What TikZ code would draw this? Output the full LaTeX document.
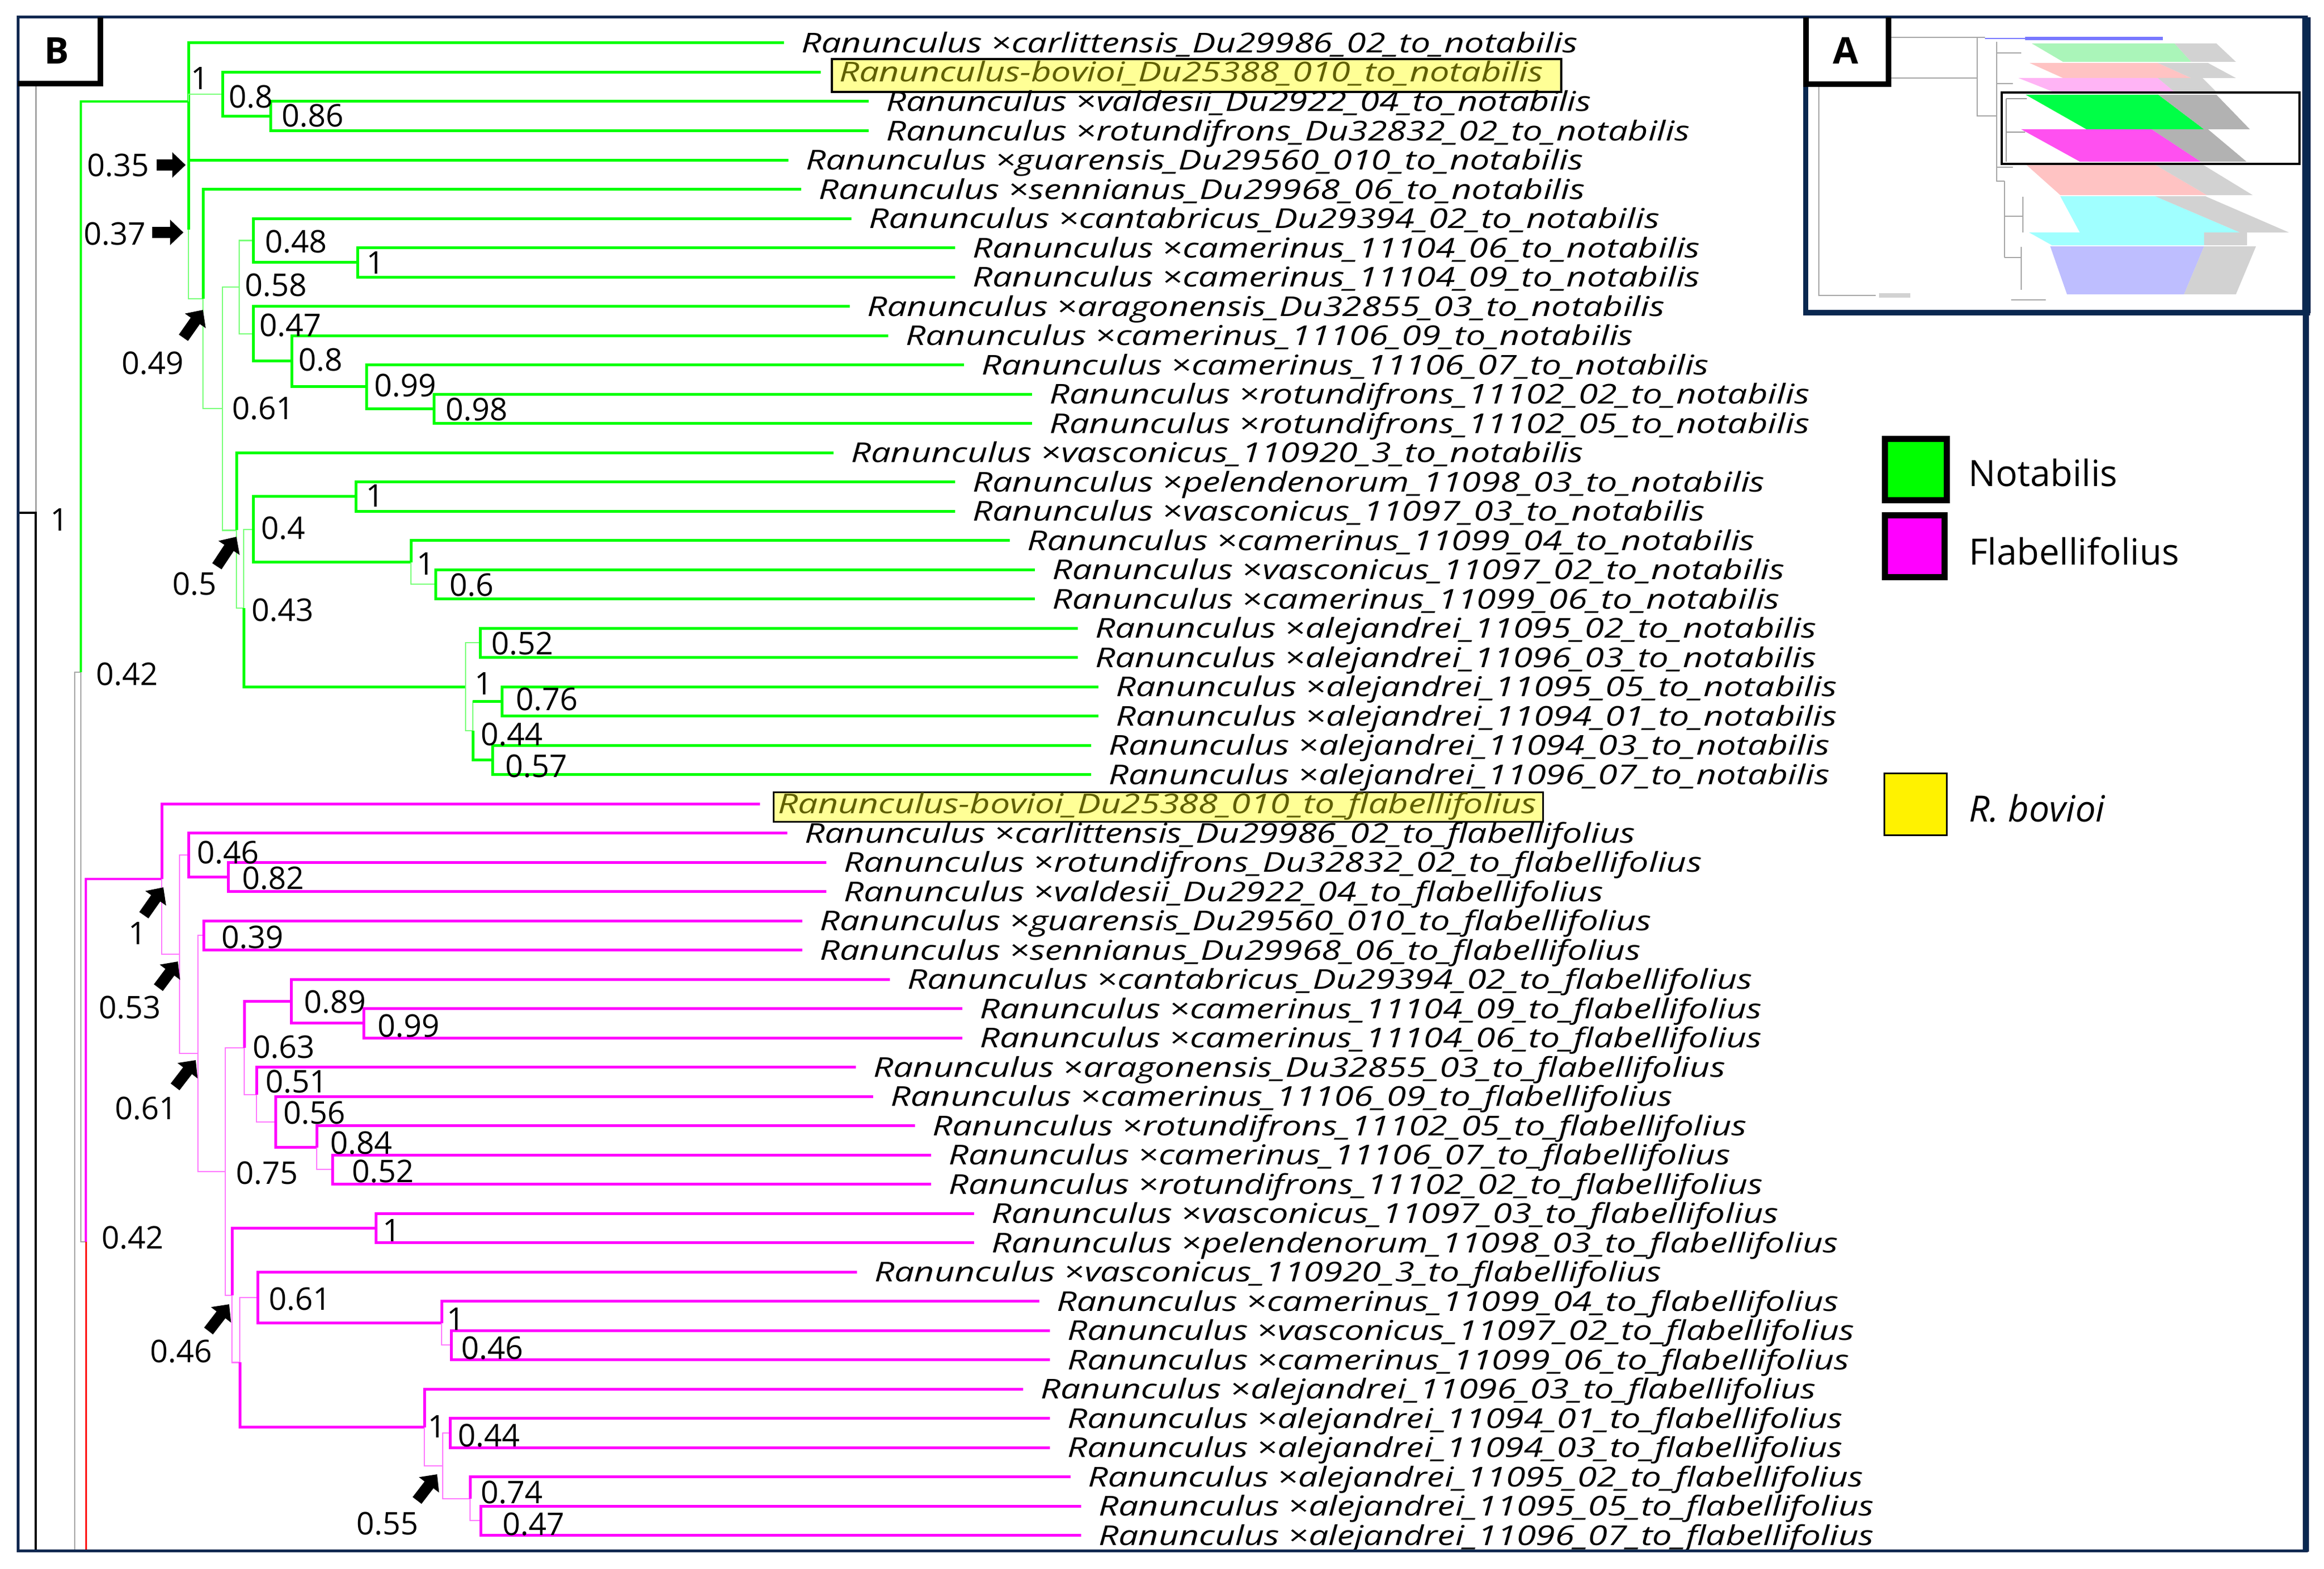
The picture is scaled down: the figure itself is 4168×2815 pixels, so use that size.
\documentclass[tikz,border=0pt]{standalone}
\usepackage{fontspec}
\setmainfont{Open Sans}
\newfontfamily\leaffont[FakeStretch=1.285]{Open Sans}
\usetikzlibrary{arrows.meta}

\definecolor{brG}{RGB}{0,255,0}
\definecolor{ltG}{RGB}{120,255,120}
\definecolor{brM}{RGB}{255,0,255}
\definecolor{ltM}{RGB}{255,120,255}
\definecolor{navyf}{RGB}{10,40,80}
\definecolor{greyl}{RGB}{165,165,165}
\definecolor{boxfill}{RGB}{255,255,150}
\definecolor{boxtext}{RGB}{95,95,0}
\definecolor{mLgreen}{RGB}{170,245,185}
\definecolor{mLpink}{RGB}{255,195,195}
\definecolor{mLmag}{RGB}{255,180,245}
\definecolor{mBgreen}{RGB}{0,255,70}
\definecolor{mBmag}{RGB}{255,80,240}
\definecolor{mLcyan}{RGB}{160,255,255}
\definecolor{mLblue}{RGB}{190,190,255}
\definecolor{mTblue}{RGB}{120,120,255}

\newcommand{\leafN}[4]{\coordinate (t#1) at (#2,#3);\node[leaflab] (l#1) at (t#1) {#4};}

\tikzset{
  gTh/.style={draw=brG, line width=5pt},
  gTn/.style={draw=ltG, line width=2.2pt},
  mTh/.style={draw=brM, line width=5pt},
  mTn/.style={draw=ltM, line width=2.2pt},
  greyline/.style={draw=greyl, line width=2.5pt},
  leaflab/.style={anchor=base west, xshift=31pt, yshift=-17.5pt, inner sep=0pt,
     font=\leaffont\itshape\fontsize{49}{55}\selectfont},
  boxlab/.style={anchor=base west, draw=black, fill=boxfill, text=boxtext,
     text height=38pt, text depth=15pt, font=\leaffont\itshape\fontsize{49}{55}\selectfont},
  num/.style={inner sep=0pt, font=\fontsize{56}{60}\selectfont},
  legtext/.style={anchor=base west, inner sep=0pt, font=\fontsize{65}{70}\selectfont},
  blockarrow/.style={draw=black, line width=20pt, -{Triangle[width=44pt,length=24pt]}},
  mini/.style={draw=gray!70, line width=2pt},
}

\begin{document}
\begin{tikzpicture}[x=1pt,y=-1pt]
\fill[white] (0,0) rectangle (4168,2815);
\useasboundingbox (0,0) rectangle (4168,2815);

% ---------------- root / backbone ----------------
\draw[draw=greyl, line width=3pt] (64,150) -- (64,920);
\draw[black, line width=3.5pt] (32,920) -- (64,920) -- (64,2782);
\coordinate (G134) at (134,1206);
\coordinate (gR) at (145,1206);
\coordinate (M154) at (154,2228);
\draw[greyline] (134,2782) -- (G134) -- (gR);
\draw[greyline] (gR) |- (M154);
\draw[draw=red, line width=3pt] (M154) -- (154,2782);

% ---------------- Notabilis clade ----------------
\coordinate (gc) at (338,182);
\coordinate (gb) at (399,168.9);
\coordinate (ga) at (485,208.25);
\coordinate (gd) at (338,411.7);
\coordinate (ge) at (364,536.35);
\coordinate (gf) at (399,733.2);
\coordinate (gg) at (429,515);
\coordinate (gi) at (454,431.4);
\coordinate (gk) at (641,470.75);
\coordinate (gj) at (454,598.7);
\coordinate (gl) at (523,647.9);
\coordinate (gm) at (657,693.9);
\coordinate (go) at (778,733.25);
\coordinate (gh) at (424,951.45);
\coordinate (gp) at (437,1090.9);
\coordinate (gq) at (454,949.8);
\coordinate (gs) at (638,890.75);
\coordinate (gu) at (737,1008.9);
\coordinate (gv) at (781,1048.25);
\coordinate (gr) at (835,1232);
\coordinate (gw) at (861,1153.25);
\coordinate (gy) at (848,1310.75);
\coordinate (gz) at (900,1258.25);
\coordinate (gaa) at (883,1363.25);

\leafN{n0}{1406}{77}{Ranunculus ×carlittensis\_Du29986\_02\_to\_notabilis}
\coordinate (tn1) at (1472,129.5);
\node[boxlab, line width=4pt, inner xsep=13pt, inner ysep=3pt, xshift=18pt, yshift=-17.5pt] (ln1) at (tn1) {Ranunculus-bovioi\_Du25388\_010\_to\_notabilis\hspace*{19pt}};
\leafN{n2}{1558}{182}{Ranunculus ×valdesii\_Du2922\_04\_to\_notabilis}
\leafN{n3}{1558}{234.5}{Ranunculus ×rotundifrons\_Du32832\_02\_to\_notabilis}
\leafN{n4}{1414}{287}{Ranunculus ×guarensis\_Du29560\_010\_to\_notabilis}
\leafN{n5}{1437}{339.5}{Ranunculus ×sennianus\_Du29968\_06\_to\_notabilis}
\leafN{n6}{1527}{392}{Ranunculus ×cantabricus\_Du29394\_02\_to\_notabilis}
\leafN{n7}{1713}{444.5}{Ranunculus ×camerinus\_11104\_06\_to\_notabilis}
\leafN{n8}{1713}{497}{Ranunculus ×camerinus\_11104\_09\_to\_notabilis}
\leafN{n9}{1524}{549.5}{Ranunculus ×aragonensis\_Du32855\_03\_to\_notabilis}
\leafN{n10}{1593}{602}{Ranunculus ×camerinus\_11106\_09\_to\_notabilis}
\leafN{n11}{1729}{654.5}{Ranunculus ×camerinus\_11106\_07\_to\_notabilis}
\leafN{n12}{1851}{707}{Ranunculus ×rotundifrons\_11102\_02\_to\_notabilis}
\leafN{n13}{1851}{759.5}{Ranunculus ×rotundifrons\_11102\_05\_to\_notabilis}
\leafN{n14}{1495}{812}{Ranunculus ×vasconicus\_110920\_3\_to\_notabilis}
\leafN{n15}{1713}{864.5}{Ranunculus ×pelendenorum\_11098\_03\_to\_notabilis}
\leafN{n16}{1713}{917}{Ranunculus ×vasconicus\_11097\_03\_to\_notabilis}
\leafN{n17}{1811}{969.5}{Ranunculus ×camerinus\_11099\_04\_to\_notabilis}
\leafN{n18}{1856}{1022}{Ranunculus ×vasconicus\_11097\_02\_to\_notabilis}
\leafN{n19}{1856}{1074.5}{Ranunculus ×camerinus\_11099\_06\_to\_notabilis}
\leafN{n20}{1933}{1127}{Ranunculus ×alejandrei\_11095\_02\_to\_notabilis}
\leafN{n21}{1933}{1179.5}{Ranunculus ×alejandrei\_11096\_03\_to\_notabilis}
\leafN{n22}{1970}{1232}{Ranunculus ×alejandrei\_11095\_05\_to\_notabilis}
\leafN{n23}{1970}{1284.5}{Ranunculus ×alejandrei\_11094\_01\_to\_notabilis}
\leafN{n24}{1957}{1337}{Ranunculus ×alejandrei\_11094\_03\_to\_notabilis}
\leafN{n25}{1957}{1389.5}{Ranunculus ×alejandrei\_11096\_07\_to\_notabilis}

\draw[draw=brG, line width=3.5pt] (gR) |- (gc);
\draw[gTh] (gc) |- (tn0);
\draw[gTn] (gc) |- (gb);
\draw[gTh] (gc) |- (gd);
\draw[gTh] (gb) |- (tn1);
\draw[gTh] (gb) |- (ga);
\draw[gTh] (ga) |- (tn2);
\draw[gTh] (ga) |- (tn3);
\draw[gTh] (gd) |- (tn4);
\draw[gTn] (gd) |- (ge);
\draw[gTh] (ge) |- (tn5);
\draw[gTn] (ge) |- (gf);
\draw[gTn] (gf) |- (gg);
\draw[gTn] (gf) |- (gh);
\draw[gTn] (gg) |- (gi);
\draw[gTn] (gg) |- (gj);
\draw[gTh] (gi) |- (tn6);
\draw[gTh] (gi) |- (gk);
\draw[gTh] (gk) |- (tn7);
\draw[gTh] (gk) |- (tn8);
\draw[gTh] (gj) |- (tn9);
\draw[gTh] (gj) |- (gl);
\draw[gTh] (gl) |- (tn10);
\draw[gTh] (gl) |- (gm);
\draw[gTh] (gm) |- (tn11);
\draw[gTh] (gm) |- (go);
\draw[gTh] (go) |- (tn12);
\draw[gTh] (go) |- (tn13);
\draw[gTh] (gh) |- (tn14);
\draw[gTn] (gh) |- (gp);
\draw[gTn] (gp) |- (gq);
\draw[gTh] (gp) |- (gr);
\draw[gTh] (gq) |- (gs);
\draw[gTh] (gq) |- (gu);
\draw[gTh] (gs) |- (tn15);
\draw[gTh] (gs) |- (tn16);
\draw[gTh] (gu) |- (tn17);
\draw[gTn] (gu) |- (gv);
\draw[gTh] (gv) |- (tn18);
\draw[gTh] (gv) |- (tn19);
\draw[gTn] (gr) |- (gw);
\draw[gTn] (gr) |- (gy);
\draw[gTh] (gw) |- (tn20);
\draw[gTh] (gw) |- (tn21);
\draw[gTn] (gy) |- (gz);
\draw[gTh] (gy |- gz) -- (gz);
\draw[gTh] (gy) |- (gaa);
\draw[gTh] (gz) |- (tn22);
\draw[gTh] (gz) |- (tn23);
\draw[gTh] (gaa) |- (tn24);
\draw[gTh] (gaa) |- (tn25);

% ---------------- Flabellifolius clade ----------------
\coordinate (mr) at (290,1577);
\coordinate (m1) at (322,1712);
\coordinate (m2) at (338,1533.9);
\coordinate (m3) at (355,1890.1);
\coordinate (m4) at (409,1573.25);
\coordinate (m5) at (365,1678.25);
\coordinate (m6) at (404,2101.9);
\coordinate (m7) at (438,1880);
\coordinate (m8) at (416,2323.8);
\coordinate (m9) at (522,1796.4);
\coordinate (m10) at (460,1963.7);
\coordinate (m11) at (652,1835.75);
\coordinate (m12) at (494,2012.9);
\coordinate (m13) at (568,2058.9);
\coordinate (m14) at (596,2098.25);
\coordinate (m15) at (674,2203.25);
\coordinate (m16) at (430,2444.4);
\coordinate (m17) at (462,2327.9);
\coordinate (m18) at (761,2560.9);
\coordinate (m19) at (792,2373.9);
\coordinate (m20) at (809,2413.25);
\coordinate (m21) at (794,2629.8);
\coordinate (m22) at (807,2570.75);
\coordinate (m23) at (843,2688.9);
\coordinate (m24) at (862,2728.25);

\coordinate (tf0) at (1363,1442);
\node[boxlab, line width=3pt, inner xsep=8.5pt, inner ysep=0pt, xshift=22.5pt, yshift=-17.5pt] (lf0) at (tf0) {Ranunculus-bovioi\_Du25388\_010\_to\_flabellifolius\hspace*{3pt}};
\leafN{f1}{1412}{1494.5}{Ranunculus ×carlittensis\_Du29986\_02\_to\_flabellifolius}
\leafN{f2}{1482}{1547}{Ranunculus ×rotundifrons\_Du32832\_02\_to\_flabellifolius}
\leafN{f3}{1482}{1599.5}{Ranunculus ×valdesii\_Du2922\_04\_to\_flabellifolius}
\leafN{f4}{1439}{1652}{Ranunculus ×guarensis\_Du29560\_010\_to\_flabellifolius}
\leafN{f5}{1439}{1704.5}{Ranunculus ×sennianus\_Du29968\_06\_to\_flabellifolius}
\leafN{f6}{1596}{1757}{Ranunculus ×cantabricus\_Du29394\_02\_to\_flabellifolius}
\leafN{f7}{1726}{1809.5}{Ranunculus ×camerinus\_11104\_09\_to\_flabellifolius}
\leafN{f8}{1726}{1862}{Ranunculus ×camerinus\_11104\_06\_to\_flabellifolius}
\leafN{f9}{1535}{1914.5}{Ranunculus ×aragonensis\_Du32855\_03\_to\_flabellifolius}
\leafN{f10}{1566}{1967}{Ranunculus ×camerinus\_11106\_09\_to\_flabellifolius}
\leafN{f11}{1641}{2019.5}{Ranunculus ×rotundifrons\_11102\_05\_to\_flabellifolius}
\leafN{f12}{1670}{2072}{Ranunculus ×camerinus\_11106\_07\_to\_flabellifolius}
\leafN{f13}{1670}{2124.5}{Ranunculus ×rotundifrons\_11102\_02\_to\_flabellifolius}
\leafN{f14}{1747}{2177}{Ranunculus ×vasconicus\_11097\_03\_to\_flabellifolius}
\leafN{f15}{1747}{2229.5}{Ranunculus ×pelendenorum\_11098\_03\_to\_flabellifolius}
\leafN{f16}{1537}{2282}{Ranunculus ×vasconicus\_110920\_3\_to\_flabellifolius}
\leafN{f17}{1864}{2334.5}{Ranunculus ×camerinus\_11099\_04\_to\_flabellifolius}
\leafN{f18}{1883}{2387}{Ranunculus ×vasconicus\_11097\_02\_to\_flabellifolius}
\leafN{f19}{1883}{2439.5}{Ranunculus ×camerinus\_11099\_06\_to\_flabellifolius}
\leafN{f20}{1835}{2492}{Ranunculus ×alejandrei\_11096\_03\_to\_flabellifolius}
\leafN{f21}{1883}{2544.5}{Ranunculus ×alejandrei\_11094\_01\_to\_flabellifolius}
\leafN{f22}{1883}{2597}{Ranunculus ×alejandrei\_11094\_03\_to\_flabellifolius}
\leafN{f23}{1920}{2649.5}{Ranunculus ×alejandrei\_11095\_02\_to\_flabellifolius}
\leafN{f24}{1939}{2702}{Ranunculus ×alejandrei\_11095\_05\_to\_flabellifolius}
\leafN{f25}{1939}{2754.5}{Ranunculus ×alejandrei\_11096\_07\_to\_flabellifolius}

\draw[draw=brM, line width=3.5pt] (M154) |- (mr);
\draw[mTh] (mr) |- (tf0);
\draw[mTn] (mr) |- (m1);
\draw[mTn] (m1) |- (m2);
\draw[mTn] (m1) |- (m3);
\draw[mTh] (m2) |- (tf1);
\draw[mTh] (m2) |- (m4);
\draw[mTh] (m4) |- (tf2);
\draw[mTh] (m4) |- (tf3);
\draw[mTn] (m3) |- (m5);
\draw[mTn] (m3) |- (m6);
\draw[mTh] (m5) |- (tf4);
\draw[mTh] (m5) |- (tf5);
\draw[mTn] (m6) |- (m7);
\draw[mTn] (m6) |- (m8);
\draw[mTh] (m7) |- (m9);
\draw[mTn] (m7) |- (m10);
\draw[mTh] (m9) |- (tf6);
\draw[mTh] (m9) |- (m11);
\draw[mTh] (m11) |- (tf7);
\draw[mTh] (m11) |- (tf8);
\draw[mTh] (m10) |- (tf9);
\draw[mTn] (m10) |- (m12);
\draw[mTh] (m12) |- (tf10);
\draw[mTh] (m12) |- (m13);
\draw[mTh] (m13) |- (tf11);
\draw[mTn] (m13) |- (m14);
\draw[mTh] (m14) |- (tf12);
\draw[mTh] (m14) |- (tf13);
\draw[mTh] (m8) |- (m15);
\draw[mTn] (m8) |- (m16);
\draw[mTh] (m15) |- (tf14);
\draw[mTh] (m15) |- (tf15);
\draw[mTn] (m16) |- (m17);
\draw[mTh] (m16) |- (m18);
\draw[mTh] (m17) |- (tf16);
\draw[mTh] (m17) |- (m19);
\draw[mTh] (m19) |- (tf17);
\draw[mTn] (m19) |- (m20);
\draw[mTh] (m20) |- (tf18);
\draw[mTh] (m20) |- (tf19);
\draw[mTh] (m18) |- (tf20);
\draw[mTn] (m18) |- (m21);
\draw[mTn] (m21) |- (m22);
\draw[mTn] (m21) |- (m23);
\draw[mTh] (m22) |- (tf21);
\draw[mTh] (m22) |- (tf22);
\draw[mTh] (m23) |- (tf23);
\draw[mTn] (m23) |- (m24);
\draw[mTh] (m24) |- (tf24);
\draw[mTh] (m24) |- (tf25);

% ---------------- support values ----------------
\node[num] (v01) at (359,141) {1};
\node[num] (v02) at (450,174) {0.8};
\node[num] (v03) at (561,208) {0.86};
\node[num] (v04) at (212,297) {0.35};
\node[num] (v05) at (206,420) {0.37};
\node[num] (v06) at (531,434) {0.48};
\node[num] (v07) at (674,472) {1};
\node[num] (v08) at (495,512) {0.58};
\node[num] (v09) at (521,584) {0.47};
\node[num] (v10) at (575,646) {0.8};
\node[num] (v11) at (274,652) {0.49};
\node[num] (v12) at (727,692) {0.99};
\node[num] (v13) at (855,735) {0.98};
\node[num] (v14) at (472,733) {0.61};
\node[num] (v15) at (673,890) {1};
\node[num] (v16) at (508,948) {0.4};
\node[num] (v17) at (764,1012) {1};
\node[num] (v18) at (846,1050) {0.6};
\node[num] (v19) at (349,1048) {0.5};
\node[num] (v20) at (507,1095) {0.43};
\node[num] (v21) at (937,1155) {0.52};
\node[num] (v22) at (867,1226) {1};
\node[num] (v23) at (981,1255) {0.76};
\node[num] (v24) at (918,1318) {0.44};
\node[num] (v25) at (962,1375) {0.57};
\node[num] (v26) at (228,1210) {0.42};
\node[num] (v27) at (107,933) {1};

\node[num] (w01) at (409,1530) {0.46};
\node[num] (w02) at (490,1576) {0.82};
\node[num] (w03) at (247,1674) {1};
\node[num] (w04) at (453,1682) {0.39};
\node[num] (w05) at (233,1808) {0.53};
\node[num] (w06) at (601,1798) {0.89};
\node[num] (w07) at (733,1841) {0.99};
\node[num] (w08) at (509,1879) {0.63};
\node[num] (w09) at (262,1989) {0.61};
\node[num] (w10) at (532,1941) {0.51};
\node[num] (w11) at (564,1997) {0.56};
\node[num] (w12) at (648,2051) {0.84};
\node[num] (w13) at (687,2102) {0.52};
\node[num] (w14) at (479,2105) {0.75};
\node[num] (w15) at (238,2221) {0.42};
\node[num] (w16) at (703,2207) {1};
\node[num] (w17) at (538,2331) {0.61};
\node[num] (w18) at (818,2366) {1};
\node[num] (w19) at (883,2419) {0.46};
\node[num] (w20) at (325,2425) {0.46};
\node[num] (w21) at (783,2559) {1};
\node[num] (w22) at (877,2576) {0.44};
\node[num] (w23) at (695,2734) {0.55};
\node[num] (w24) at (918,2678) {0.74};
\node[num] (w25) at (957,2735) {0.47};

% ---------------- block arrows ----------------
\coordinate (a1s) at (281,296);  \coordinate (a1e) at (333,296);
\coordinate (a2s) at (273,417);  \coordinate (a2e) at (329,417);
\coordinate (a3s) at (329,606);  \coordinate (a3e) at (364,556);
\coordinate (a4s) at (389,1016); \coordinate (a4e) at (424,963);
\coordinate (a5s) at (258,1642); \coordinate (a5e) at (293,1592);
\coordinate (a6s) at (284,1772); \coordinate (a6e) at (319,1725);
\coordinate (a7s) at (314,1950); \coordinate (a7e) at (351,1902);
\coordinate (a8s) at (374,2388); \coordinate (a8e) at (411,2340);
\coordinate (a9s) at (748,2692); \coordinate (a9e) at (784,2645);
\foreach \i in {1,...,9} { \draw[blockarrow] (a\i s) -- (a\i e); }

% ---------------- legend ----------------
\draw[line width=11pt, fill=brG] (3380.5,787.5) rectangle (3491.5,897.5);
\draw[line width=11pt, fill=brM] (3380.5,924.5) rectangle (3487.5,1035.5);
\draw[line width=3pt, fill=yellow] (3379.5,1387.5) rectangle (3491.5,1498.5);
\node[legtext] (legN) at (3530,872) {Notabilis};
\node[legtext] (legF) at (3531,1013) {Flabellifolius};
\node[legtext, font=\itshape\fontsize{65}{70}\selectfont] (legR) at (3531,1474) {R. bovioi};

% ---------------- inset A (overview tree) ----------------
\fill[mTblue] (3632,66) rectangle (3879,72);
\draw[draw=mTblue, line width=2pt] (3560,69) -- (3632,69);
\fill[mLgreen] (3644,78) -- (3900,78) -- (3930,111) -- (3700,111) -- cycle;
\fill[gray!35] (3900,78) -- (3975,78) -- (4010,111) -- (3930,111) -- cycle;
\fill[mLpink] (3640,113) -- (3870,113) -- (3930,140) -- (3700,140) -- cycle;
\fill[gray!35] (3870,113) -- (3960,113) -- (4010,140) -- (3930,140) -- cycle;
\fill[mLmag] (3620,140) -- (3870,140) -- (3900,165) -- (3683,165) -- cycle;
\fill[gray!35] (3870,140) -- (3950,140) -- (3975,165) -- (3900,165) -- cycle;
\fill[mBgreen] (3633,170) -- (3871,170) -- (3953,232) -- (3742,232) -- cycle;
\fill[gray!60] (3871,170) -- (3975,170) -- (4035,232) -- (3953,232) -- cycle;
\fill[mBmag] (3625,232) -- (3859,232) -- (3947,290) -- (3730,290) -- cycle;
\fill[gray!60] (3859,232) -- (3960,232) -- (4029,290) -- (3947,290) -- cycle;
\fill[mLpink] (3630,292) -- (3859,292) -- (3958,350) -- (3695,350) -- cycle;
\fill[gray!35] (3859,292) -- (3945,292) -- (4040,350) -- (3958,350) -- cycle;
\fill[mLcyan] (3695,352) -- (3865,352) -- (4017,417) -- (3730,417) -- cycle;
\fill[gray!35] (3865,352) -- (3955,352) -- (4105,417) -- (4017,417) -- cycle;
\fill[mLcyan] (3639,417) -- (3953,417) -- (3953,440) -- (3680,440) -- cycle;
\fill[gray!35] (3953,417) -- (4030,417) -- (4030,440) -- (3953,440) -- cycle;
\fill[mLblue] (3677,442) -- (3953,442) -- (3917,528) -- (3707,528) -- cycle;
\fill[gray!35] (3953,442) -- (4046,442) -- (4010,528) -- (3917,528) -- cycle;
\draw[mini] (3262,153) -- (3262,530) -- (3364,530);
\fill[gray!35] (3370,526) rectangle (3426,534);
\draw[mini] (3391,67) -- (3560,67);
\draw[mini] (3391,140) -- (3546,140);
\draw[mini] (3546,67) -- (3546,208) -- (3581,208);
\draw[mini] (3581,75) -- (3581,325) -- (3595,325);
\draw[mini] (3595,325) -- (3595,462);
\draw[mini] (3595,388) -- (3628,388);
\draw[mini] (3595,462) -- (3625,462);
\draw[mini] (3628,353) -- (3628,417);
\draw[mini] (3625,443) -- (3625,520);
\draw[mini] (3581,95) -- (3625,95);
\draw[mini] (3581,150) -- (3610,150);
\draw[mini] (3581,300) -- (3610,300);
\draw[mini, draw=gray!80] (3598,177) -- (3598,290);
\draw[mini, draw=gray!80] (3598,177) -- (3635,177);
\draw[mini, draw=gray!80] (3598,237) -- (3632,237);
\draw[mini] (3607,538) -- (3669,538);
\draw[black, line width=4pt] (3590,166) rectangle (4124,294);

% ---------------- frames and panel labels ----------------
\draw[navyf, line width=5pt] (32,31) rectangle (4136,2782);
\draw[navyf, line width=11pt] (4135,31) -- (4135,2784);
\draw[navyf, line width=15pt] (4136,31) -- (4136,562);
\draw[navyf, line width=9pt] (3238,31) -- (3238,562);
\draw[navyf, line width=10pt] (3234,561) -- (4143,561);
\draw[black, line width=10pt] (32,150) -- (180,150) -- (180,31);
\node[font=\bfseries\fontsize{66}{70}\selectfont, inner sep=0pt] (Blab) at (102,91) {B};
\draw[black, line width=10pt] (3239,31) -- (3239,151) -- (3387,151) -- (3387,31);
\node[font=\bfseries\fontsize{66}{70}\selectfont, inner sep=0pt] (Alab) at (3310,91) {A};
\end{tikzpicture}
\end{document}
